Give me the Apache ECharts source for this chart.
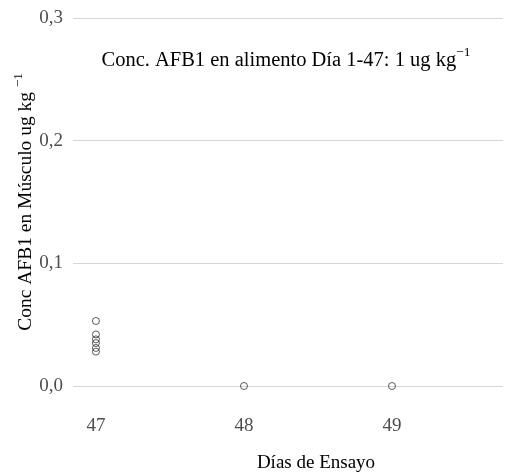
<!DOCTYPE html>
<html>
<head>
<meta charset="utf-8">
<script src="https://cdn.jsdelivr.net/npm/echarts@6/dist/echarts.min.js"></script>
<style>
html,body{margin:0;padding:0;background:#fff;}
#chart{width:505px;height:472px;}
</style>
</head>
<body>
<div id="chart"></div>
<script>
// Data
const days = [47, 47, 47, 47, 47, 47, 48, 49];
const concMuscle = [0.053, 0.042, 0.038, 0.035, 0.031, 0.028, 0.0, 0.0];
const xTicks = [47, 48, 49];
const yTicks = [0, 0.1, 0.2, 0.3];

const points = days.map((d, i) => [d, concMuscle[i]]);
const serif = '"Liberation Serif", "DejaVu Serif", serif';

const chart = echarts.init(document.getElementById('chart'), null, {renderer: 'canvas'});
chart.setOption({
  backgroundColor: '#ffffff',
  animation: false,
  title: {
    text: '{m|Conc. AFB1 en alimento Día 1-47: 1 ug kg}{s|−1}',
    left: 281,
    textAlign: 'center',
    top: 40,
    textStyle: {
      fontWeight: 'normal',
      rich: {
        m: {fontFamily: serif, fontSize: 20.5, fontWeight: 'normal', color: '#000', lineHeight: 26, verticalAlign: 'bottom'},
        s: {fontFamily: serif, fontSize: 13.5, fontWeight: 'normal', color: '#000', lineHeight: 26, verticalAlign: 'top'}
      }
    }
  },
  grid: {left: 73, right: 2, top: 18, bottom: 86, containLabel: false, outerBoundsMode: 'none'},
  xAxis: {
    type: 'value',
    min: 46.845,
    max: 49.75,
    axisLine: {show: false},
    axisTick: {show: false},
    splitLine: {show: false},
    axisLabel: {
      customValues: xTicks,
      margin: 31,
      fontFamily: serif,
      fontSize: 19,
      color: '#4d4d4d'
    },
    name: 'Días de Ensayo',
    nameLocation: 'middle',
    nameGap: 68,
    nameMoveOverlap: false,
    nameTextStyle: {fontFamily: serif, fontSize: 19, color: '#000', padding: [0, 0, 0, 56]}
  },
  yAxis: {
    type: 'value',
    min: yTicks[0],
    max: yTicks[yTicks.length - 1],
    interval: 0.1,
    axisLine: {show: false},
    axisTick: {show: false},
    splitLine: {show: true, lineStyle: {color: '#d6d6d6', width: 1}},
    axisLabel: {
      margin: 10,
      fontFamily: serif,
      fontSize: 19,
      color: '#4d4d4d',
      formatter: v => v.toFixed(1).replace('.', ',')
    },
    name: '{m|Conc AFB1 en Músculo ug kg }{s|−1}',
    nameLocation: 'middle',
    nameGap: 37,
    nameMoveOverlap: false,
    nameTextStyle: {
      rich: {
        m: {fontFamily: serif, fontSize: 19.5, color: '#000', lineHeight: 24, verticalAlign: 'bottom'},
        s: {fontFamily: serif, fontSize: 13, color: '#000', lineHeight: 24, verticalAlign: 'top'}
      }
    }
  },
  series: [{
    type: 'scatter',
    data: points,
    symbol: 'circle',
    symbolSize: 7,
    itemStyle: {color: 'rgba(255,255,255,0)', borderColor: '#333', borderWidth: 1}
  }]
});
</script>
</body>
</html>
